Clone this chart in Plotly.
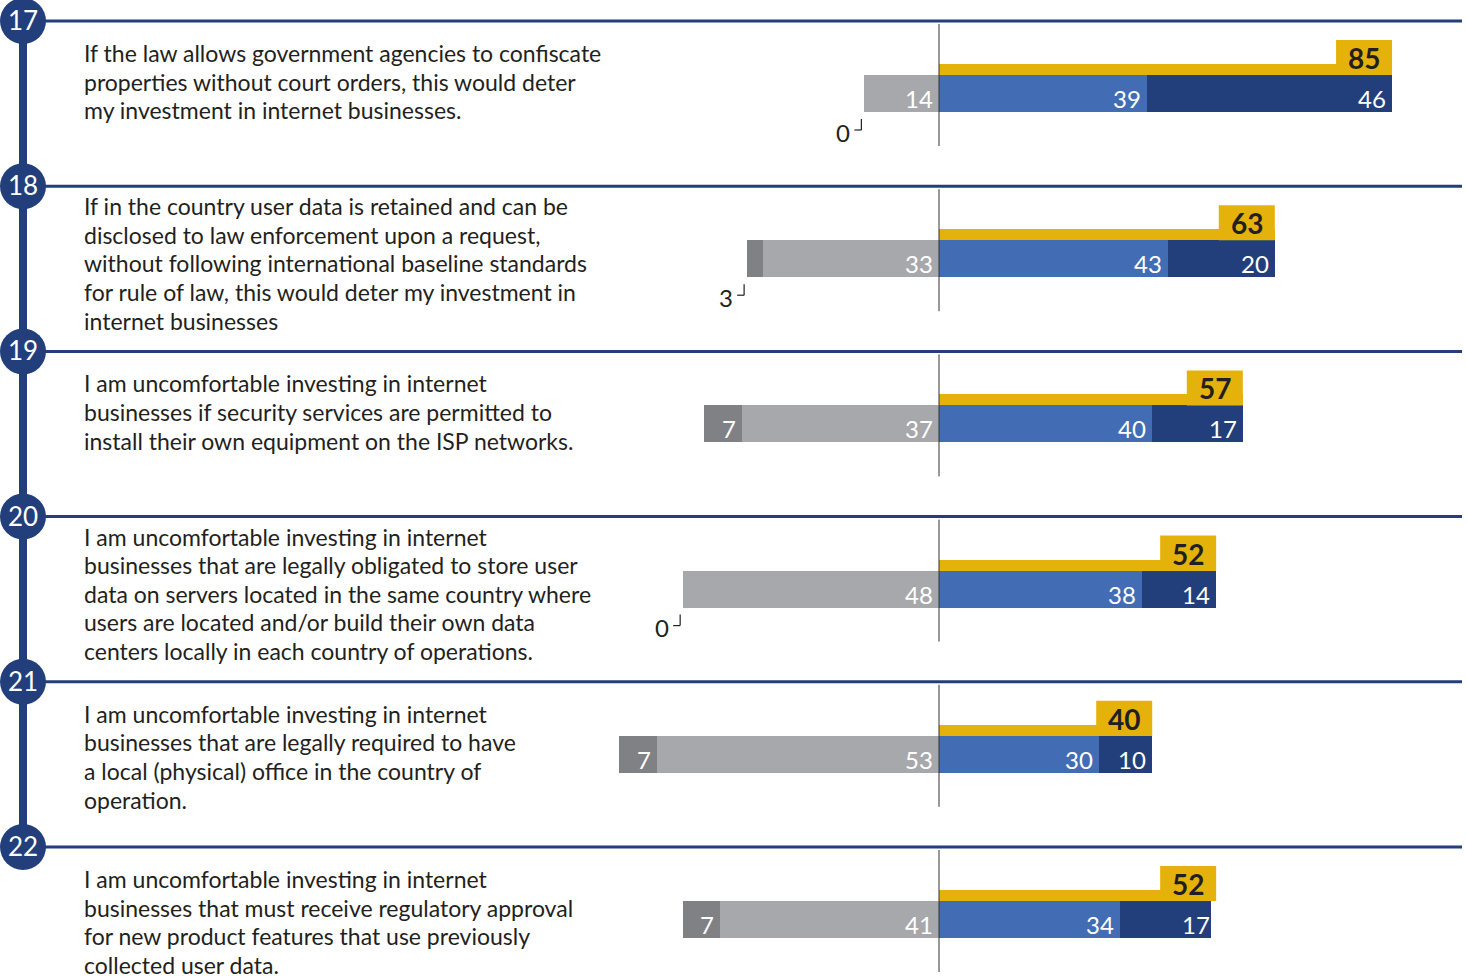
import plotly.graph_objects as go

# ---------------- data ----------------
item_numbers = ["17", "18", "19", "20", "21", "22"]
statements = [
    "If the law allows government agencies to confiscate<br>properties without court orders, this would deter<br>my investment in internet businesses.",
    "If in the country user data is retained and can be<br>disclosed to law enforcement upon a request,<br>without following international baseline standards<br>for rule of law, this would deter my investment in<br>internet businesses",
    "I am uncomfortable investing in internet<br>businesses if security services are permitted to<br>install their own equipment on the ISP networks.",
    "I am uncomfortable investing in internet<br>businesses that are legally obligated to store user<br>data on servers located in the same country where<br>users are located and/or build their own data<br>centers locally in each country of operations.",
    "I am uncomfortable investing in internet<br>businesses that are legally required to have<br>a local (physical) office in the country of<br>operation.",
    "I am uncomfortable investing in internet<br>businesses that must receive regulatory approval<br>for new product features that use previously<br>collected user data.",
]
agree = [39, 43, 40, 38, 30, 34]
strongly_agree = [46, 20, 17, 14, 10, 17]
total_agree = [85, 63, 57, 52, 40, 52]
disagree = [14, 33, 37, 48, 53, 41]
strongly_disagree = [0, 3, 7, 0, 7, 7]

# ---------------- style ----------------
W, H = 1468, 977
PX_PER_UNIT = 5.33
ZERO_PX = 939
ROW_TOP_PX = 21
ROW_PITCH = 165.2
LINE_PITCH = 28.6
NAVY = "#223f7c"
BLUE = "#426db4"
GRAY = "#a7a8ab"
DKGRAY = "#808184"
YELLOW = "#e5b20b"
TEXT = "#231f20"
FONT = "Lato"

def off(px):
    return px / ROW_PITCH

x_range = [-ZERO_PX / PX_PER_UNIT, (W - ZERO_PX) / PX_PER_UNIT]
y_range = [(H - ROW_TOP_PX) / ROW_PITCH, -ROW_TOP_PX / ROW_PITCH]

n = len(item_numbers)
rows = list(range(n))
bar_y = [r + off((54 + 91) / 2) for r in rows]
bar_w = off(37)
thin_y = [r + off((43 + 54) / 2) for r in rows]
thin_w = off(11)

fig = go.Figure()

def hbar(x, base, y, width, color):
    fig.add_trace(go.Bar(
        x=x, base=base, y=y, width=width, orientation="h",
        marker=dict(color=color, line=dict(width=0)),
        hoverinfo="skip", showlegend=False,
    ))

hbar(agree, [0] * n, bar_y, bar_w, BLUE)
hbar(strongly_agree, agree, bar_y, bar_w, NAVY)
hbar(total_agree, [0] * n, thin_y, thin_w, YELLOW)
hbar([-v for v in disagree], [0] * n, bar_y, bar_w, GRAY)
hbar([-v for v in strongly_disagree], [-v for v in disagree], bar_y, bar_w, DKGRAY)

shapes = []
annotations = []

# vertical navy spine
shapes.append(dict(type="line", xref="paper", yref="y", x0=23 / W, x1=23 / W,
                   y0=0, y1=n - 1, line=dict(color=NAVY, width=8), layer="below"))

for r in rows:
    # horizontal rule
    shapes.append(dict(type="line", xref="paper", yref="y", x0=23 / W, x1=1462 / W,
                       y0=r, y1=r, line=dict(color=NAVY, width=3), layer="below"))
    # number circle
    shapes.append(dict(type="circle", xref="paper", yref="y", x0=0, x1=46 / W,
                       ysizemode="pixel", yanchor=r, y0=-23, y1=23,
                       fillcolor=NAVY, line=dict(width=0), layer="above"))
    annotations.append(dict(text=item_numbers[r], xref="paper", yref="y", x=23 / W, y=r,
                            showarrow=False, font=dict(family=FONT, size=26, color="white"),
                            xanchor="center", yanchor="middle", yshift=1))
    # zero line
    shapes.append(dict(type="line", xref="x", yref="y", x0=0, x1=0,
                       y0=r + off(3), y1=r + off(125), line=dict(color="#333333", width=1),
                       layer="above"))
    # statement, one annotation per line
    lines = statements[r].split("<br>")
    top_off = 32 if len(lines) <= 4 else 20
    for i, ln in enumerate(lines):
        annotations.append(dict(text=ln, xref="paper", yref="y", x=82 / W,
                                y=r + off(top_off + i * LINE_PITCH), xanchor="left",
                                yanchor="middle", align="left", showarrow=False,
                                font=dict(family=FONT, size=23, color=TEXT)))
    # yellow total box
    shapes.append(dict(type="rect", xref="x", yref="y", xsizemode="pixel",
                       xanchor=total_agree[r], x0=-56, x1=0,
                       y0=r + off(19), y1=r + off(54), fillcolor=YELLOW,
                       line=dict(width=0), layer="above"))
    annotations.append(dict(text="<b>%d</b>" % total_agree[r], x=total_agree[r], y=r + off(37),
                            xshift=-28, xanchor="center", yanchor="middle", showarrow=False,
                            font=dict(family=FONT, size=28, color=TEXT)))
    # value labels inside bars
    def inlab(v, xpos):
        annotations.append(dict(text=str(v), x=xpos, y=bar_y[r], xanchor="right",
                                yanchor="middle", xshift=-4, yshift=-5, showarrow=False,
                                font=dict(family=FONT, size=24, color="white")))
    inlab(agree[r], agree[r])
    inlab(strongly_agree[r], total_agree[r])
    inlab(disagree[r], 0)
    left = -(disagree[r] + strongly_disagree[r])
    if strongly_disagree[r] >= 5:
        inlab(strongly_disagree[r], -disagree[r])
    else:
        # callout below the bar
        annotations.append(dict(text=str(strongly_disagree[r]), x=left, y=r + off(111),
                                xanchor="right", yanchor="middle", xshift=-12, showarrow=False,
                                font=dict(family=FONT, size=24, color=TEXT)))
        shapes.append(dict(type="line", xref="x", yref="y", xsizemode="pixel", xanchor=left,
                           x0=-3, x1=-3, y0=r + off(98), y1=r + off(109),
                           line=dict(color=TEXT, width=1.2)))
        shapes.append(dict(type="line", xref="x", yref="y", xsizemode="pixel", xanchor=left,
                           x0=-3, x1=-10, y0=r + off(109), y1=r + off(109),
                           line=dict(color=TEXT, width=1.2)))

fig.update_layout(
    width=W, height=H,
    margin=dict(l=0, r=0, t=0, b=0),
    paper_bgcolor="white", plot_bgcolor="white",
    barmode="overlay", bargap=0,
    xaxis=dict(range=x_range, visible=False, fixedrange=True),
    yaxis=dict(range=y_range, visible=False, fixedrange=True),
    shapes=shapes, annotations=annotations,
    font=dict(family=FONT),
)

fig.write_html("out.html", config={"displayModeBar": False},
               post_script="document.body.style.margin='0';document.body.style.overflow='hidden';")
